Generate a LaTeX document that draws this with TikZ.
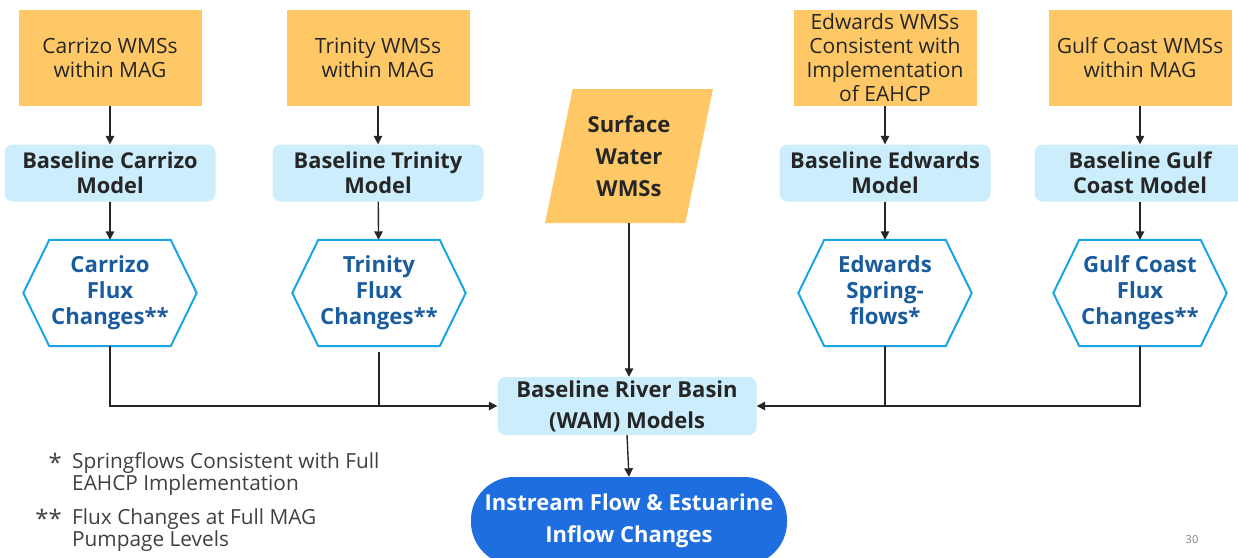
\documentclass[tikz,border=0pt]{standalone}
\usepackage{fontspec}
\setmainfont{Open Sans}
\usetikzlibrary{arrows.meta,shapes.geometric}
\definecolor{wmsorange}{HTML}{FFC866}
\definecolor{modelblue}{HTML}{CCEEFC}
\definecolor{hexblue}{HTML}{1BA4E4}
\definecolor{fluxtext}{HTML}{1A5C9E}
\definecolor{darktext}{HTML}{262626}
\definecolor{flowblue}{HTML}{1E6EE0}
\definecolor{notegray}{HTML}{404040}
\tikzset{%
  wms/.style      = {shape=rectangle, fill=wmsorange, align=center,%
                     minimum width=183pt, minimum height=96pt, inner sep=0pt,%
                     text=darktext, font=\fontsize{21}{24}\selectfont},%
  model/.style    = {shape=rectangle, rounded corners=8pt, fill=modelblue,%
                     align=center, minimum width=211pt, minimum height=57pt,%
                     inner sep=0pt, text=darktext,%
                     font=\bfseries\fontsize{21.8}{25}\selectfont},%
  flux/.style     = {shape=rectangle, align=center, minimum width=121pt,%
                     minimum height=106pt, inner sep=0pt, text=fluxtext,%
                     font=\bfseries\fontsize{22.2}{26}\selectfont,%
                     execute at end node=\vphantom{g}},%
  hexline/.style  = {draw=hexblue, line width=2pt, line join=miter},%
  note/.style     = {anchor=north west, align=left, inner sep=0pt, text=notegray,%
                     font=\fontsize{20.8}{22}\selectfont},%
  star/.style     = {anchor=east, inner sep=0pt, text=notegray,%
                     font=\fontsize{24}{24}\selectfont},%
  feed/.style     = {draw=darktext, line width=1.4pt},%
  arr/.style      = {feed, -{Triangle[length=8.5pt,width=8.5pt]}}%
}

\begin{document}
\begin{tikzpicture}[x=1pt,y=-1pt]
	\useasboundingbox (0,0) rectangle (1238,557);
	% aquifer columns
	\node [wms] (carrizoWMS) at (110,58) {Carrizo WMSs\\within MAG};
	\node [wms] (trinityWMS) at (378,58) {Trinity WMSs\\within MAG};
	\node [wms] (edwardsWMS) at (885,58) {Edwards WMSs\\Consistent with\\Implementation\\of EAHCP};
	\node [wms] (gulfWMS) at (1140,58) {Gulf Coast WMSs\\within MAG};
	\node [model] (carrizoModel) at (110,173) {Baseline Carrizo\\Model};
	\node [model] (trinityModel) at (378,173) {Baseline Trinity\\Model};
	\node [model] (edwardsModel) at (885,173) {Baseline Edwards\\Model};
	\node [model] (gulfModel) at (1140,173) {Baseline Gulf\\Coast Model};
	\node [flux] (carrizoFlux) at (110,293) {Carrizo\\Flux\\Changes**};
	\node [flux] (trinityFlux) at (379,293) {Trinity\\Flux\\Changes**};
	\node [flux] (edwardsFlux) at (885,293) {Edwards\\Spring-\\flows*};
	\node [flux] (gulfFlux) at (1140,293) {Gulf Coast\\Flux\\Changes**};
	\foreach \aq in {carrizo,trinity,edwards,gulf}{
		\draw [hexline] (\aq Flux.north west) -- (\aq Flux.north east)
			-- ([xshift=26pt]\aq Flux.east) -- (\aq Flux.south east)
			-- (\aq Flux.south west) -- ([xshift=-26pt]\aq Flux.west) -- cycle;
		\draw [arr] (\aq WMS) -- (\aq Model);
		\draw [arr] (\aq Model) -- (\aq Flux);
	}
	% surface water and river basin
	\node [trapezium, trapezium left angle=76, trapezium right angle=104,%
		trapezium stretches=true, minimum width=168pt, minimum height=134pt,%
		inner sep=0pt, fill=wmsorange, align=center, text=darktext,%
		font=\bfseries\fontsize{22}{32}\selectfont] (surface) at (629,156) {Surface\\Water\\WMSs};
	\node [model, minimum width=259pt, minimum height=58pt,%
		font=\bfseries\fontsize{22}{31}\selectfont] (wam) at (627,406) {Baseline River Basin\\(WAM) Models};
	\node [shape=rectangle, rounded corners=43pt, fill=flowblue, text=white,%
		align=center, minimum width=316pt, minimum height=88pt, inner sep=0pt,%
		font=\bfseries\fontsize{22}{32}\selectfont] (instream) at (629,521) {Instream Flow \& Estuarine\\Inflow Changes};
	\draw [arr] (carrizoFlux.south) |- (wam.west);
	\draw [feed, shorten <=6pt] (trinityFlux.south) -- (trinityFlux.south |- wam.west);
	\draw [arr] (gulfFlux.south) |- (wam.east);
	\draw [feed] (edwardsFlux.south) -- (edwardsFlux.south |- wam.east);
	\draw [arr] (surface.south) -- (surface.south |- wam.north);
	\draw [arr] (wam.south) -- (instream.north);
	% notes
	\node [star] (starOne) at (62,462) {*};
	\node [note] (noteSpring) at (72,452) {Springflows Consistent with Full\\EAHCP Implementation};
	\node [star] (starTwo) at (62,518) {**};
	\node [note] (noteFlux) at (72,508) {Flux Changes at Full MAG\\Pumpage Levels};
	\node [text=gray, font=\fontsize{11}{13}\selectfont] (pageNo) at (1192,540) {30};
\end{tikzpicture}
\end{document}
